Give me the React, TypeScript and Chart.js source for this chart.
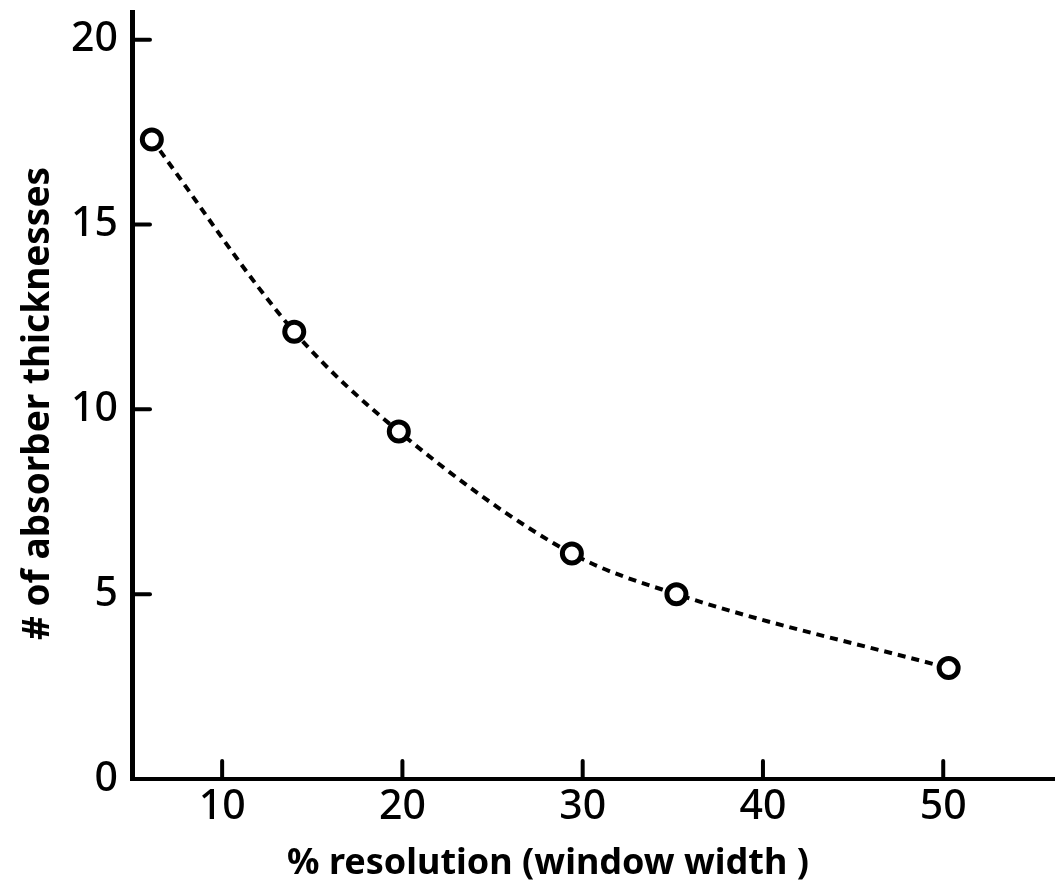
import { useEffect, useRef } from "react";
import { Chart, registerables } from "chart.js";

Chart.register(...registerables);

// Data
const resolutionPct = [6.1, 14.0, 19.8, 29.4, 35.2, 50.3];
const absorberThicknesses = [17.3, 12.1, 9.4, 6.1, 5.0, 3.0];

const xTickValues = [10, 20, 30, 40, 50];
const yTickValues = [0, 5, 10, 15, 20];

const xTitle = "% resolution (window width )";
const yTitle = "# of absorber thicknesses";

const FONT = '"Noto Sans", "DejaVu Sans", sans-serif';

const axisDecor = {
  id: "axisDecor",
  afterDraw(chart: any) {
    const { ctx, chartArea, scales } = chart;
    const x = scales.x;
    const y = scales.y;
    ctx.save();
    ctx.strokeStyle = "#000";
    ctx.lineWidth = 4;
    ctx.lineCap = "round";
    xTickValues.forEach((v) => {
      const px = x.getPixelForValue(v);
      ctx.beginPath();
      ctx.moveTo(px, chartArea.bottom);
      ctx.lineTo(px, chartArea.bottom - 18);
      ctx.stroke();
    });
    yTickValues.forEach((v) => {
      if (v === 0) return;
      const py = y.getPixelForValue(v);
      ctx.beginPath();
      ctx.moveTo(chartArea.left, py);
      ctx.lineTo(chartArea.left + 18, py);
      ctx.stroke();
    });

    ctx.fillStyle = "#000";
    ctx.textAlign = "center";
    ctx.textBaseline = "middle";
    ctx.font = `bold 36px ${FONT}`;
    ctx.fillText(xTitle, chartArea.left + 416, chart.height - 30);

    ctx.font = `bold 37px ${FONT}`;
    ctx.translate(38, (chartArea.top + chartArea.bottom) / 2 + 8);
    ctx.rotate(-Math.PI / 2);
    ctx.fillText(yTitle, 0, 0);
    ctx.restore();
  },
};

const zeroPadding = (scale: any) => {
  scale.paddingTop = 0;
  scale.paddingBottom = 0;
  scale.paddingLeft = 0;
  scale.paddingRight = 0;
};

export default function App() {
  const canvasRef = useRef<HTMLCanvasElement | null>(null);

  useEffect(() => {
    if (!canvasRef.current) return;
    const points = resolutionPct.map((v, i) => ({ x: v, y: absorberThicknesses[i] }));
    const chart = new Chart(canvasRef.current, {
      type: "line",
      data: {
        datasets: [
          {
            data: points,
            borderColor: "#000",
            borderWidth: 4,
            borderDash: [8, 6],
            cubicInterpolationMode: "monotone",
            pointRadius: 9.5,
            pointBorderWidth: 5,
            pointBackgroundColor: "#fff",
            pointBorderColor: "#000",
            pointHoverRadius: 9.5,
            fill: false,
          },
        ],
      },
      options: {
        responsive: false,
        animation: false,
        devicePixelRatio: 1,
        layout: { autoPadding: false, padding: { top: 12, right: 0, bottom: 0, left: 0 } },
        plugins: { legend: { display: false }, tooltip: { enabled: false } },
        events: [],
        scales: {
          x: {
            type: "linear",
            min: 5,
            max: 56.2,
            grid: { display: false, drawTicks: false },
            border: { display: true, color: "#000", width: 4 },
            afterBuildTicks: (scale: any) => {
              scale.ticks = xTickValues.map((v) => ({ value: v }));
            },
            afterFit: (scale: any) => {
              scale.height = 115;
              zeroPadding(scale);
            },
            ticks: {
              color: "#000",
              padding: 4,
              maxRotation: 0,
              autoSkip: false,
              font: { family: FONT, size: 41, weight: "500" },
            },
          },
          y: {
            type: "linear",
            min: 0,
            max: 20.75,
            grid: { display: false, drawTicks: false },
            border: { display: true, color: "#000", width: 5 },
            afterBuildTicks: (scale: any) => {
              scale.ticks = yTickValues.map((v) => ({ value: v }));
            },
            afterFit: (scale: any) => {
              scale.width = 132;
              zeroPadding(scale);
            },
            ticks: {
              color: "#000",
              padding: 14,
              autoSkip: false,
              font: { family: FONT, size: 41, weight: "500" },
            },
          },
        },
      },
      plugins: [axisDecor],
    } as any);
    return () => chart.destroy();
  }, []);

  return (
    <div style={{ position: "absolute", left: 0, top: 0, width: 1055, height: 894, background: "#fff" }}>
      <canvas ref={canvasRef} width={1055} height={894} style={{ display: "block" }} />
    </div>
  );
}
